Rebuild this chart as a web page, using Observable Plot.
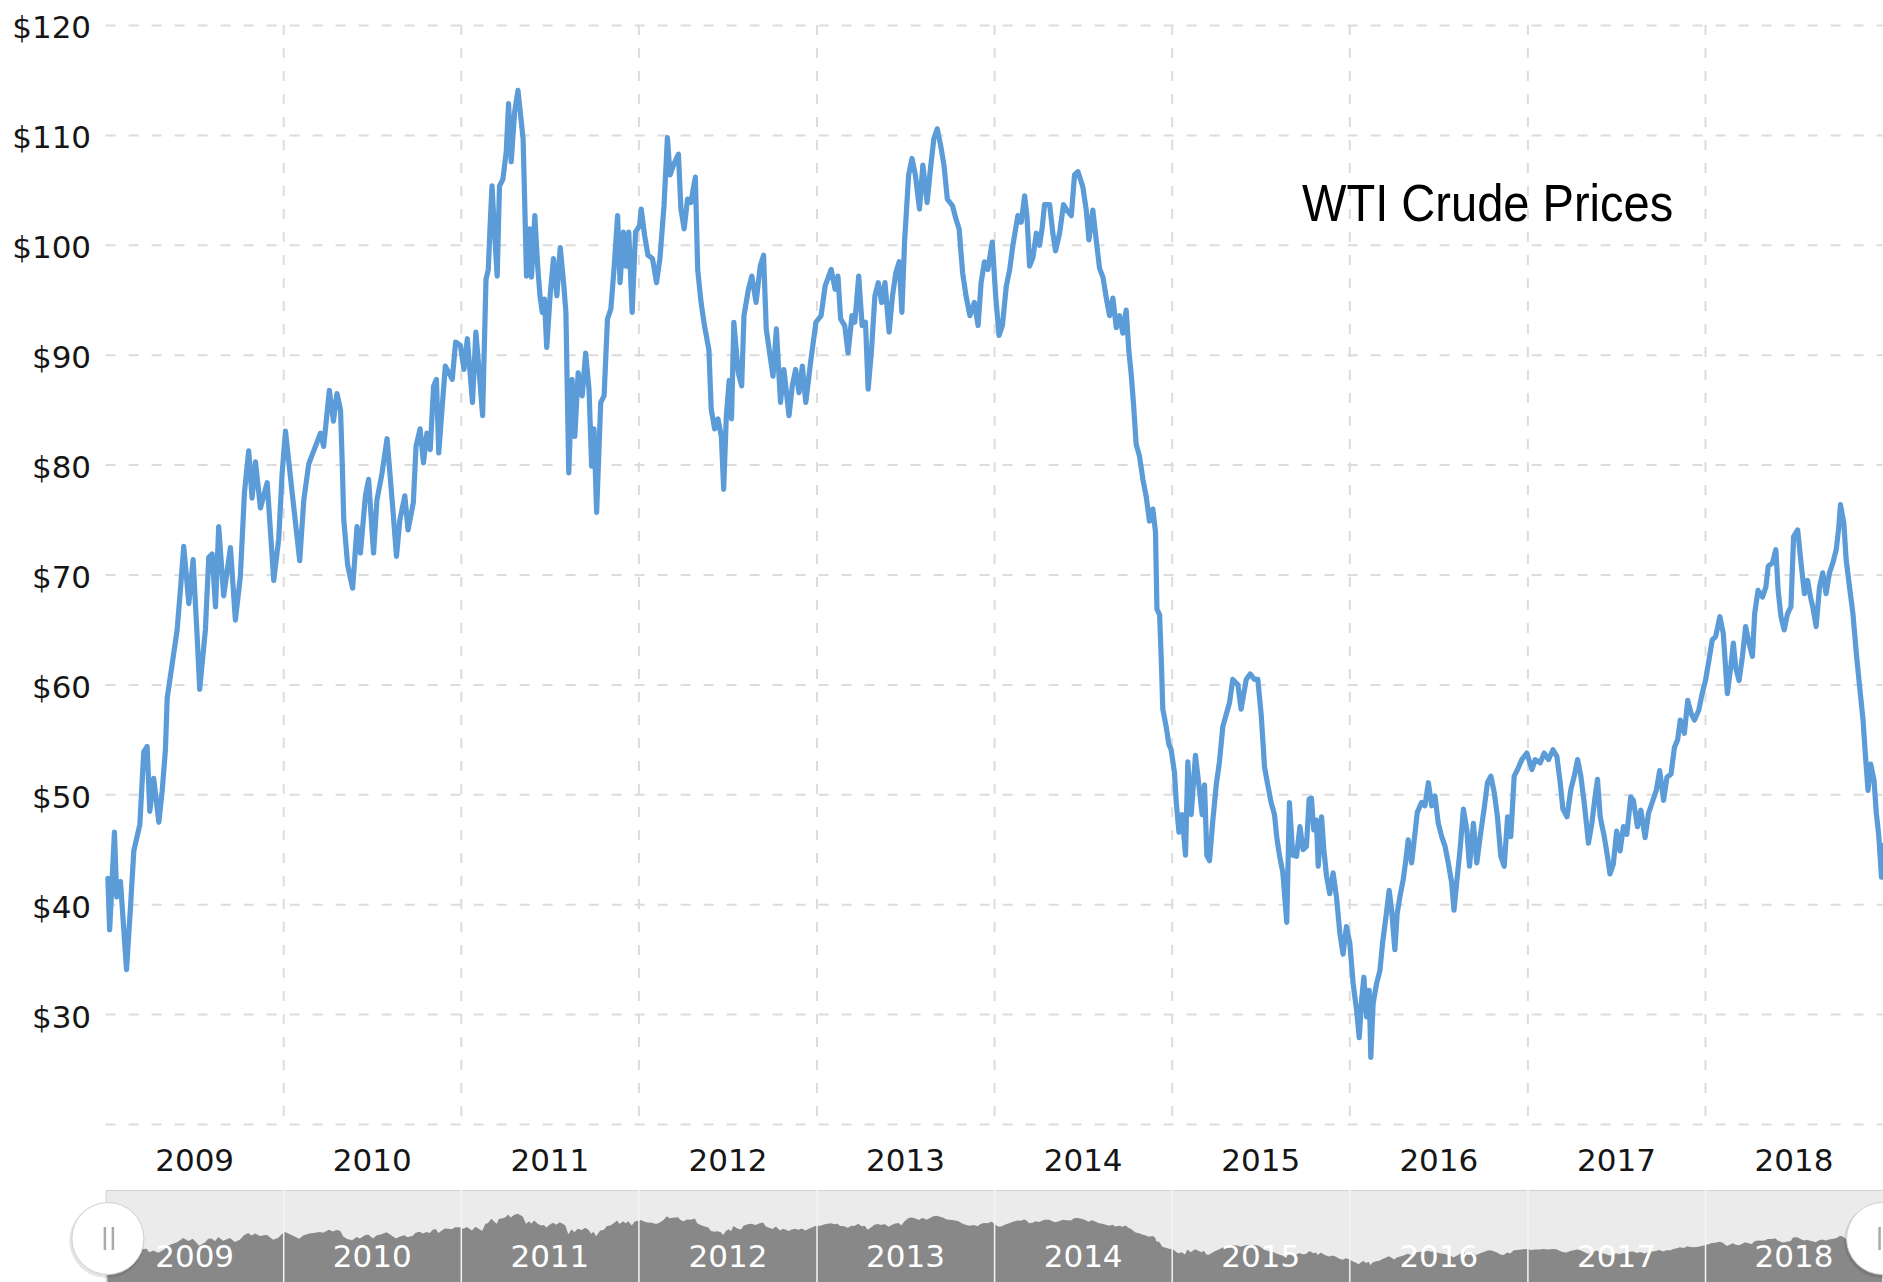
<!DOCTYPE html>
<html>
<head>
<meta charset="utf-8">
<script src="https://cdn.jsdelivr.net/npm/d3@7"></script>
<script src="https://cdn.jsdelivr.net/npm/@observablehq/plot@0.6"></script>
<style>
  html, body { margin: 0; padding: 0; background: #fff; }
  #wrap { position: relative; width: 1883px; height: 1282px; overflow: hidden; }
  #main { position: absolute; left: 0; top: 0; }
  #nav { position: absolute; left: 0; top: 1190px; }
  #title { position: absolute; left: 1302px; top: 177px; font-family: "Liberation Sans", Arial, sans-serif;
           font-size: 52px; line-height: 52px; color: #000; white-space: nowrap;
           transform: scaleX(0.905); transform-origin: 0 0; }
</style>
</head>
<body>
<div id="wrap">
  <div id="main"></div>
  <div id="title"></div>
  <div id="nav"></div>
</div>
<script>
// ---- Data (decimal year, WTI price in USD) ----
const titleText = "WTI Crude Prices";
const yearLabels = ["2009","2010","2011","2012","2013","2014","2015","2016","2017","2018"];
const priceTicks = [30,40,50,60,70,80,90,100,110,120];
const priceGrid = [20,30,40,50,60,70,80,90,100,110,120];

const wti2009 = [[2009.010,42.4],[2009.020,37.7],[2009.047,46.6],[2009.060,40.7],[2009.081,42.1],[2009.115,34.1],[2009.137,39.7],[2009.156,44.9],[2009.190,47.3],[2009.212,53.9],[2009.231,54.4],[2009.246,48.5],[2009.268,51.5],[2009.297,47.5],[2009.316,50.4],[2009.334,54.1],[2009.344,58.8],[2009.372,61.9],[2009.400,65.0],[2009.419,68.8],[2009.437,72.6],[2009.466,67.4],[2009.490,71.4],[2009.513,64.3],[2009.527,59.6],[2009.559,65.0],[2009.578,71.6],[2009.597,71.9],[2009.616,67.1],[2009.634,74.4],[2009.662,68.1],[2009.700,72.5],[2009.728,65.9],[2009.756,69.9],[2009.779,77.5],[2009.803,81.3],[2009.822,77.0],[2009.841,80.3],[2009.869,76.1],[2009.907,78.4],[2009.944,69.5],[2009.972,73.3],[2009.991,79.2]];
const wti2010 = [[2010.010,83.1],[2010.038,78.9],[2010.090,71.3],[2010.113,76.8],[2010.141,80.1],[2010.169,81.3],[2010.207,82.9],[2010.225,81.7],[2010.257,86.8],[2010.280,84.0],[2010.300,86.5],[2010.320,85.0],[2010.330,80.0],[2010.338,75.1],[2010.360,70.9],[2010.388,68.8],[2010.413,74.4],[2010.432,72.0],[2010.460,77.2],[2010.478,78.7],[2010.506,72.0],[2010.525,76.8],[2010.553,79.2],[2010.582,82.4],[2010.600,78.9],[2010.616,75.7],[2010.635,71.7],[2010.654,75.0],[2010.682,77.2],[2010.700,74.1],[2010.730,76.6],[2010.745,81.7],[2010.768,83.3],[2010.787,80.2],[2010.806,82.9],[2010.825,81.4],[2010.844,87.2],[2010.860,87.8],[2010.873,81.1],[2010.890,84.8],[2010.910,89.0],[2010.930,88.4],[2010.949,87.8],[2010.968,91.2],[2010.995,90.9]];
const wti2011 = [[2011.015,88.7],[2011.034,91.5],[2011.063,85.7],[2011.082,92.1],[2011.101,88.4],[2011.120,84.5],[2011.139,96.9],[2011.152,97.8],[2011.163,102.1],[2011.173,105.4],[2011.186,101.5],[2011.202,97.2],[2011.215,105.4],[2011.234,106.0],[2011.253,108.5],[2011.266,112.9],[2011.281,107.6],[2011.300,112.1],[2011.319,114.1],[2011.348,109.7],[2011.357,103.9],[2011.367,97.2],[2011.386,101.5],[2011.395,97.1],[2011.414,102.7],[2011.430,98.1],[2011.443,95.4],[2011.456,93.9],[2011.468,95.1],[2011.481,90.7],[2011.500,95.4],[2011.519,98.8],[2011.538,95.4],[2011.557,99.8],[2011.576,96.6],[2011.589,93.9],[2011.605,79.3],[2011.624,87.8],[2011.639,82.6],[2011.658,88.4],[2011.681,86.3],[2011.700,90.2],[2011.719,86.9],[2011.734,79.9],[2011.747,83.3],[2011.762,75.7],[2011.785,85.7],[2011.804,86.3],[2011.823,93.3],[2011.842,94.2],[2011.861,98.1],[2011.880,102.7],[2011.894,96.6],[2011.913,101.2],[2011.928,98.1],[2011.943,101.2],[2011.962,93.9],[2011.981,101.2]];
const wti2012 = [[2012.004,101.8],[2012.013,103.3],[2012.032,100.9],[2012.051,99.1],[2012.076,98.8],[2012.099,96.6],[2012.118,98.8],[2012.141,103.6],[2012.160,109.8],[2012.175,106.4],[2012.194,107.3],[2012.222,108.3],[2012.236,103.3],[2012.254,101.5],[2012.273,104.2],[2012.292,103.9],[2012.317,106.2],[2012.330,97.8],[2012.349,94.8],[2012.368,92.7],[2012.393,90.5],[2012.406,85.1],[2012.425,83.3],[2012.444,84.2],[2012.463,82.6],[2012.476,77.8],[2012.491,84.5],[2012.507,87.7],[2012.520,84.2],[2012.533,93.0],[2012.558,88.4],[2012.577,87.2],[2012.590,93.6],[2012.615,96.0],[2012.634,97.2],[2012.658,94.8],[2012.681,98.1],[2012.700,99.1],[2012.715,92.4],[2012.734,90.2],[2012.753,88.1],[2012.772,92.4],[2012.795,85.7],[2012.814,88.7],[2012.843,84.5],[2012.861,87.2],[2012.880,88.7],[2012.899,86.6],[2012.918,89.0],[2012.937,85.7],[2012.966,89.6],[2012.994,93.0]];
const wti2013 = [[2013.023,93.6],[2013.046,96.3],[2013.080,97.8],[2013.102,96.0],[2013.118,97.2],[2013.133,93.3],[2013.156,92.7],[2013.175,90.2],[2013.197,93.6],[2013.213,93.0],[2013.235,97.2],[2013.254,92.7],[2013.273,93.0],[2013.288,86.9],[2013.307,90.5],[2013.326,95.4],[2013.345,96.6],[2013.364,94.8],[2013.383,96.6],[2013.406,92.1],[2013.425,95.4],[2013.444,97.5],[2013.463,98.5],[2013.478,93.9],[2013.493,100.3],[2013.516,106.4],[2013.535,107.9],[2013.554,106.4],[2013.577,103.3],[2013.596,107.3],[2013.620,103.9],[2013.639,107.0],[2013.658,109.7],[2013.677,110.6],[2013.696,109.1],[2013.715,107.3],[2013.734,104.2],[2013.763,103.6],[2013.782,102.4],[2013.800,101.5],[2013.820,97.5],[2013.839,95.4],[2013.861,93.6],[2013.886,94.8],[2013.907,92.7],[2013.924,96.6],[2013.943,98.5],[2013.962,97.8],[2013.987,100.3]];
const wti2014 = [[2014.006,95.4],[2014.025,91.8],[2014.044,92.7],[2014.066,96.3],[2014.085,97.8],[2014.103,100.0],[2014.131,102.7],[2014.150,102.1],[2014.169,104.5],[2014.182,102.7],[2014.197,98.1],[2014.216,98.9],[2014.235,101.1],[2014.253,100.0],[2014.268,101.6],[2014.281,103.7],[2014.310,103.7],[2014.328,101.1],[2014.343,99.5],[2014.366,101.1],[2014.388,103.7],[2014.407,103.2],[2014.432,102.7],[2014.450,106.4],[2014.469,106.7],[2014.497,105.3],[2014.516,103.2],[2014.531,100.5],[2014.553,103.2],[2014.572,100.5],[2014.591,97.9],[2014.610,97.1],[2014.629,95.2],[2014.647,93.6],[2014.666,95.2],[2014.685,92.5],[2014.704,93.6],[2014.722,92.0],[2014.741,94.1],[2014.756,90.4],[2014.769,88.3],[2014.782,85.6],[2014.797,81.9],[2014.816,80.8],[2014.835,78.7],[2014.854,77.1],[2014.872,74.9],[2014.891,76.0],[2014.906,73.9],[2014.914,66.9],[2014.929,66.4],[2014.938,62.6],[2014.947,57.8],[2014.966,56.2],[2014.981,54.6],[2014.994,54.1]];
const wti2015 = [[2015.013,52.0],[2015.023,49.3],[2015.038,46.6],[2015.056,48.2],[2015.075,44.5],[2015.088,53.0],[2015.107,48.2],[2015.131,53.6],[2015.150,50.9],[2015.169,48.2],[2015.182,50.9],[2015.195,44.5],[2015.210,44.0],[2015.229,47.7],[2015.248,50.9],[2015.266,53.0],[2015.285,56.2],[2015.304,57.3],[2015.323,58.4],[2015.341,60.5],[2015.370,60.0],[2015.388,57.8],[2015.417,60.5],[2015.439,61.0],[2015.463,60.5],[2015.482,60.5],[2015.501,57.3],[2015.520,52.5],[2015.538,50.9],[2015.557,49.3],[2015.576,48.2],[2015.589,46.1],[2015.604,44.5],[2015.623,42.9],[2015.645,38.4],[2015.660,49.3],[2015.679,44.5],[2015.700,44.4],[2015.719,47.1],[2015.737,45.0],[2015.756,45.3],[2015.771,49.6],[2015.784,49.7],[2015.797,46.8],[2015.812,47.7],[2015.822,43.5],[2015.841,48.0],[2015.854,45.0],[2015.869,42.6],[2015.887,41.0],[2015.906,42.9],[2015.925,40.7],[2015.944,37.4],[2015.962,35.5],[2015.981,38.0]];
const wti2016 = [[2016.000,36.5],[2016.019,32.8],[2016.038,30.4],[2016.053,27.9],[2016.066,31.3],[2016.079,33.4],[2016.094,29.8],[2016.109,32.2],[2016.118,26.1],[2016.131,31.0],[2016.150,32.8],[2016.169,34.0],[2016.184,36.5],[2016.203,38.9],[2016.221,41.3],[2016.235,39.5],[2016.253,35.9],[2016.266,39.2],[2016.281,40.7],[2016.300,42.3],[2016.315,44.1],[2016.328,45.9],[2016.347,43.8],[2016.366,46.5],[2016.379,48.4],[2016.403,49.3],[2016.422,49.0],[2016.441,51.1],[2016.460,49.0],[2016.478,49.9],[2016.497,47.4],[2016.516,46.2],[2016.535,45.3],[2016.553,43.8],[2016.572,42.0],[2016.585,39.5],[2016.600,42.0],[2016.619,45.0],[2016.638,48.7],[2016.657,46.8],[2016.672,43.5],[2016.694,47.4],[2016.713,43.8],[2016.732,46.2],[2016.754,48.7],[2016.773,51.1],[2016.792,51.7],[2016.811,50.2],[2016.829,48.0],[2016.848,44.4],[2016.867,43.5],[2016.886,48.0],[2016.904,46.2],[2016.923,51.7],[2016.942,52.3],[2016.966,53.2],[2016.994,53.8]];
const wti2017 = [[2017.023,52.3],[2017.041,53.2],[2017.069,52.9],[2017.092,53.8],[2017.116,53.2],[2017.141,54.1],[2017.163,53.5],[2017.182,51.1],[2017.197,48.7],[2017.220,48.0],[2017.242,50.5],[2017.261,51.7],[2017.280,53.2],[2017.298,51.7],[2017.317,49.3],[2017.341,45.6],[2017.360,47.4],[2017.379,49.9],[2017.392,51.4],[2017.407,48.0],[2017.430,46.2],[2017.448,44.4],[2017.462,42.8],[2017.481,43.7],[2017.500,46.7],[2017.519,44.9],[2017.538,47.1],[2017.557,46.4],[2017.579,49.8],[2017.594,49.5],[2017.617,47.1],[2017.636,48.6],[2017.660,46.1],[2017.679,48.3],[2017.704,49.5],[2017.723,50.4],[2017.742,52.2],[2017.764,49.5],[2017.783,51.6],[2017.806,51.9],[2017.825,54.3],[2017.843,55.0],[2017.858,56.8],[2017.881,55.6],[2017.900,58.6],[2017.919,57.4],[2017.938,56.8],[2017.962,57.7],[2017.981,59.2]];
const wti2018 = [[2018.000,60.4],[2018.019,62.2],[2018.038,64.1],[2018.057,64.4],[2018.081,66.2],[2018.100,64.7],[2018.123,59.2],[2018.142,61.6],[2018.157,63.8],[2018.170,61.6],[2018.189,60.4],[2018.208,62.6],[2018.226,65.3],[2018.245,63.8],[2018.264,62.6],[2018.277,66.5],[2018.296,68.6],[2018.321,68.0],[2018.340,68.9],[2018.353,70.8],[2018.377,71.1],[2018.396,72.3],[2018.409,68.6],[2018.425,66.2],[2018.443,65.0],[2018.462,66.5],[2018.481,67.1],[2018.496,73.5],[2018.519,74.1],[2018.538,71.1],[2018.557,68.3],[2018.575,69.5],[2018.591,68.0],[2018.604,67.1],[2018.623,65.3],[2018.642,68.9],[2018.660,70.2],[2018.679,68.3],[2018.698,70.2],[2018.717,71.1],[2018.736,72.3],[2018.749,74.1],[2018.760,76.4],[2018.779,74.7],[2018.792,71.4],[2018.811,68.9],[2018.830,66.5],[2018.849,62.9],[2018.868,59.8],[2018.887,56.8],[2018.900,53.7],[2018.915,50.4],[2018.930,52.8],[2018.949,51.3],[2018.962,48.3],[2018.975,46.4],[2018.991,42.5],[2018.997,45.4]];

// ---- Build table ----
const toDate = t => {
  const y = Math.floor(t);
  const a = Date.UTC(y, 0, 1), b = Date.UTC(y + 1, 0, 1);
  return new Date(a + (t - y) * (b - a));
};
const series = [wti2009, wti2010, wti2011, wti2012, wti2013, wti2014, wti2015, wti2016, wti2017, wti2018]
  .flat().map(([t, p]) => ({date: toDate(t), price: p}));
const yearStarts = yearLabels.slice(1).map(y => new Date(Date.UTC(+y, 0, 1)));
const yearMids = yearLabels.map(y => new Date(Date.UTC(+y, 6, 2)));
const xDomain = [new Date(Date.UTC(+yearLabels[0], 0, 1)), new Date(Date.UTC(+yearLabels[yearLabels.length - 1] + 1, 0, 1))];
const handleDates = [series[0].date, series[series.length - 1].date];

const fontStyle = {fontFamily: "'DejaVu Sans', Verdana, sans-serif", fontSize: "31px", color: "#161616", background: "transparent", overflow: "visible"};
const gridStyle = {stroke: "#dcdcdc", strokeOpacity: 1, strokeWidth: 2, strokeDasharray: "10,13"};

const main = Plot.plot({
  width: 1883, height: 1190,
  marginLeft: 105.6, marginRight: 0.4, marginTop: 25, marginBottom: 66,
  style: fontStyle,
  x: {type: "utc", domain: xDomain},
  y: {domain: [20, 120]},
  marks: [
    Plot.gridY(priceGrid, gridStyle),
    Plot.gridX(yearStarts, gridStyle),
    Plot.axisY(priceTicks, {tickSize: 0, tickPadding: 15, tickFormat: d => "$" + d, dy: 3, label: null}),
    Plot.axisX(yearMids, {tickSize: 0, tickPadding: 24, tickFormat: d3.utcFormat("%Y"), label: null}),
    Plot.line(series, {x: "date", y: "price", stroke: "#5a9bd8", strokeWidth: 5.2, strokeLinejoin: "round", strokeLinecap: "round"})
  ]
});
document.getElementById("main").appendChild(main);
document.getElementById("title").textContent = titleText;

const nav = Plot.plot({
  width: 1883, height: 92,
  marginLeft: 105.6, marginRight: 0.4, marginTop: 0, marginBottom: 0,
  style: fontStyle,
  x: {type: "utc", domain: xDomain, axis: null},
  y: {domain: [-2.5, 154.7], axis: null},
  marks: [
    Plot.frame({fill: "#ebebeb", stroke: "#d2d2d2", insetBottom: -3, insetRight: -3}),
    Plot.areaY(series, {x: "date", y1: -2.5, y2: "price", fill: "#888888"}),
    Plot.ruleX(yearStarts, {stroke: "#f4f4f4", strokeWidth: 1.5}),
    Plot.text(yearMids, {x: d => d, text: d => d3.utcFormat("%Y")(d), frameAnchor: "bottom", lineAnchor: "middle", dy: -25, fill: "#ffffff", fontSize: 31}),
    Plot.dot(handleDates, {x: d => d, r: 37.5, fill: "#000", fillOpacity: 0.10, dy: 4, dx: -1}),
    Plot.dot(handleDates, {x: d => d, r: 36, fill: "#ffffff", stroke: "#d0d0d0", strokeWidth: 1, dy: 2}),
    Plot.ruleX(handleDates, {dx: -3, stroke: "#aaaaaa", strokeWidth: 2.5, insetTop: 37, insetBottom: 32}),
    Plot.ruleX(handleDates, {dx: 5, stroke: "#aaaaaa", strokeWidth: 2.5, insetTop: 37, insetBottom: 32})
  ]
});
document.getElementById("nav").appendChild(nav);
</script>
</body>
</html>
